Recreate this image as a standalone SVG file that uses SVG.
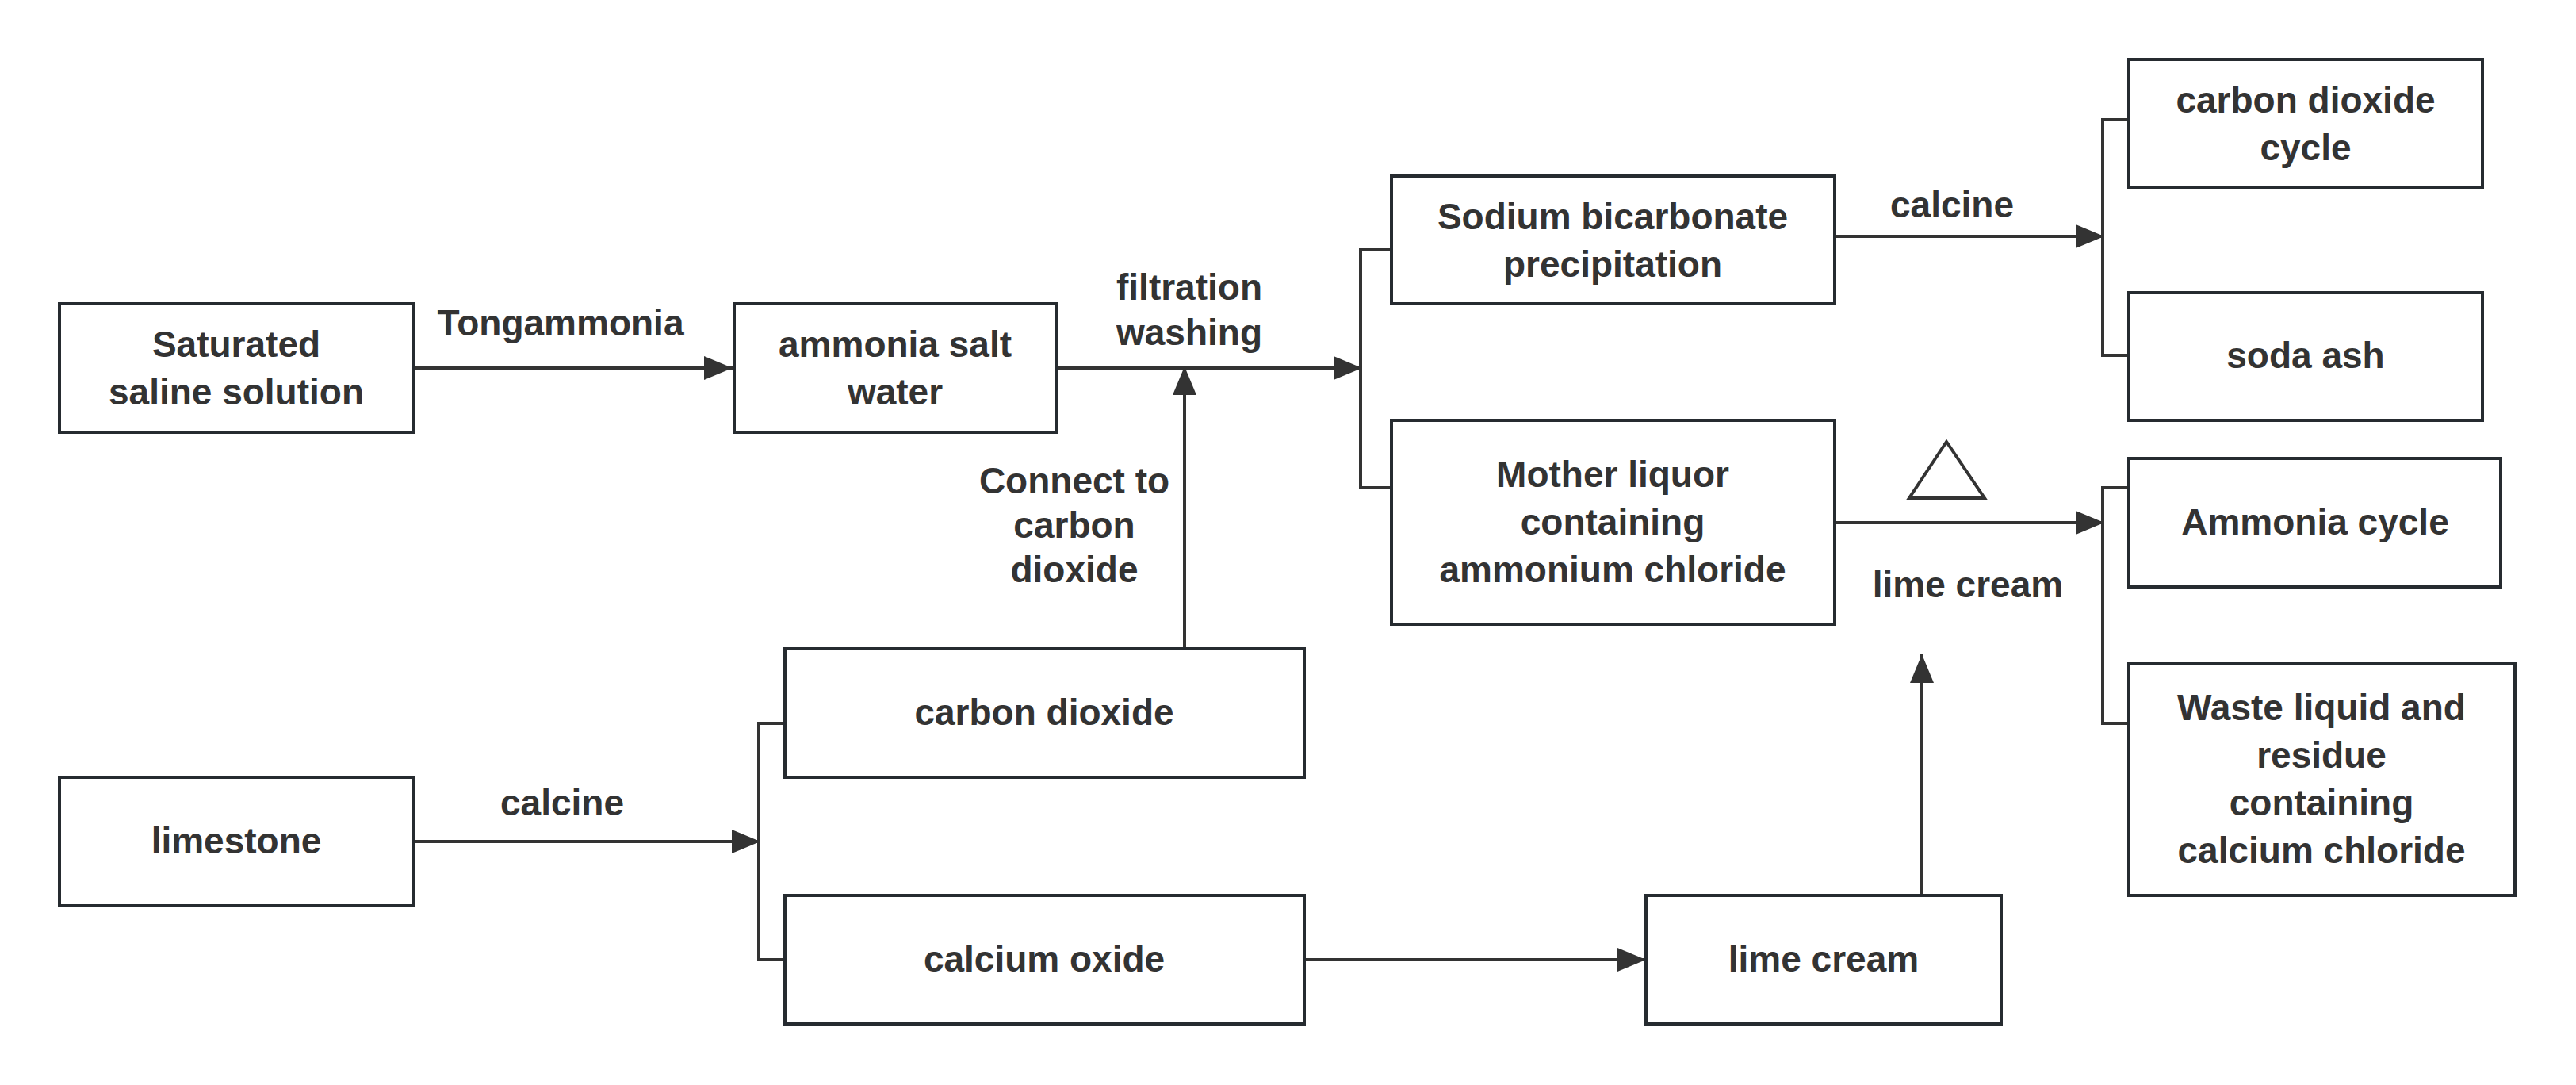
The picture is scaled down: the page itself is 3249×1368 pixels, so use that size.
<svg xmlns="http://www.w3.org/2000/svg" width="3249" height="1368" viewBox="0 0 3249 1368">
<defs>
<marker id="ah" markerWidth="36" markerHeight="30" refX="36" refY="15" markerUnits="userSpaceOnUse" orient="auto">
<path d="M0,0 L36,15 L0,30 Z" fill="#333"/>
</marker>
<style>
rect{fill:#fff;stroke:#262b30;stroke-width:4}
text{font-family:"Liberation Sans",Arial,sans-serif;font-weight:bold;font-size:46px;fill:#333;text-anchor:middle}
.c line,.c polyline{stroke:#333;stroke-width:4;fill:none}
.a{marker-end:url(#ah)}
</style>
</defs>
<rect x="0" y="0" width="3249" height="1368" style="fill:#fff;stroke:none"/>
<g class="c" id="connectors">
<line class="a" x1="522" y1="464" x2="924" y2="464"/>
<line class="a" x1="1332" y1="464" x2="1718" y2="464"/>
<polyline points="1755,315 1716,315 1716,615 1755,615"/>
<line class="a" x1="1494" y1="818" x2="1494" y2="462"/>
<line class="a" x1="2314" y1="298" x2="2654" y2="298"/>
<polyline points="2685,151 2652,151 2652,448 2685,448"/>
<line class="a" x1="2314" y1="659" x2="2654" y2="659"/>
<polyline points="2685,615 2652,615 2652,912 2685,912"/>
<line class="a" x1="2424" y1="1129" x2="2424" y2="825"/>
<line class="a" x1="522" y1="1061" x2="959" y2="1061"/>
<polyline points="990,912 957,912 957,1210 990,1210"/>
<line class="a" x1="1645" y1="1210" x2="2076" y2="1210"/>
<polygon points="2455,557 2408,628 2503,628" style="fill:none;stroke:#333;stroke-width:4"/>
<text x="707" y="423">Tongammonia</text>
<text x="1500" y="378">filtration</text>
<text x="1500" y="435">washing</text>
<text x="1355" y="622">Connect to</text>
<text x="1355" y="678">carbon</text>
<text x="1355" y="734">dioxide</text>
<text x="2462" y="274">calcine</text>
<text x="2482" y="753">lime cream</text>
<text x="709" y="1028">calcine</text>
</g>
<g id="n1"><rect x="75" y="383" width="447" height="162"/><text x="298" y="450">Saturated</text><text x="298" y="510">saline solution</text></g>
<g id="n2"><rect x="926" y="383" width="406" height="162"/><text x="1129" y="450">ammonia salt</text><text x="1129" y="510">water</text></g>
<g id="n3"><rect x="1755" y="222" width="559" height="161"/><text x="2034" y="289">Sodium bicarbonate</text><text x="2034" y="349">precipitation</text></g>
<g id="n4"><rect x="1755" y="530" width="559" height="257"/><text x="2034" y="614">Mother liquor</text><text x="2034" y="674">containing</text><text x="2034" y="734">ammonium chloride</text></g>
<g id="n5"><rect x="2685" y="75" width="446" height="161"/><text x="2908" y="142">carbon dioxide</text><text x="2908" y="202">cycle</text></g>
<g id="n6"><rect x="2685" y="369" width="446" height="161"/><text x="2908" y="464">soda ash</text></g>
<g id="n7"><rect x="2685" y="578" width="469" height="162"/><text x="2920" y="674">Ammonia cycle</text></g>
<g id="n8"><rect x="2685" y="837" width="487" height="292"/><text x="2928" y="908">Waste liquid and</text><text x="2928" y="968">residue</text><text x="2928" y="1028">containing</text><text x="2928" y="1088">calcium chloride</text></g>
<g id="n9"><rect x="990" y="818" width="655" height="162"/><text x="1317" y="914">carbon dioxide</text></g>
<g id="n10"><rect x="75" y="980" width="447" height="162"/><text x="298" y="1076">limestone</text></g>
<g id="n11"><rect x="990" y="1129" width="655" height="162"/><text x="1317" y="1225">calcium oxide</text></g>
<g id="n12"><rect x="2076" y="1129" width="448" height="162"/><text x="2300" y="1225">lime cream</text></g>
</svg>
